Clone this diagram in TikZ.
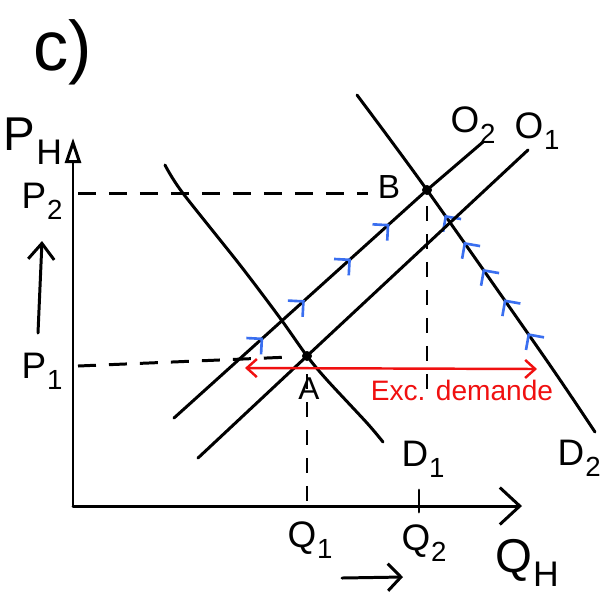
\documentclass[tikz,border=0pt]{standalone}
\usepackage{fontspec}
\setmainfont{Liberation Sans}
\usepackage{graphicx}
\usetikzlibrary{arrows.meta,decorations.markings}
\definecolor{penBlue}{HTML}{3A6FF0}
\definecolor{penRed}{HTML}{F01010}
\newcommand{\lo}[1]{\kern0.5pt\raisebox{-0.55ex}{\scalebox{0.75}{#1}}}

\tikzset{
  curve/.style={line width=1.7pt, line cap=round},
  guide/.style={line width=1.7pt, dash pattern=on 0.36cm off 0.26cm},
  vguide/.style={line width=1.7pt, dash pattern=on 0.3cm off 0.26cm},
  lbl/.style={font=\fontsize{21}{25}\selectfont, inner sep=0pt},
  pen up/.style={postaction={decorate, decoration={markings,
      mark=at position #1 with {\arrow{Straight Barb[color=penBlue, line width=1.5pt, length=2.2mm, width=4.4mm]}}}}},
  pen back/.style={postaction={decorate, decoration={markings,
      mark=at position #1 with {\arrowreversed{Straight Barb[color=penBlue, line width=1.5pt, length=2.2mm, width=4.4mm]}}}}},
}

\begin{document}
\begin{tikzpicture}[x=0.02cm, y=-0.02cm]
    \useasboundingbox (0,0) rectangle (605,593);

    \coordinate (O) at (73,506);
    \coordinate (A) at (307,356);
    \coordinate (B) at (427,190);

    % axes
    \draw[curve, -{Triangle[open, length=0.5cm, width=0.32cm]}] (O) -- (73,138);
    \draw[curve, -{Straight Barb[length=0.4cm, width=0.74cm]}] (O) -- (522,506);
    \draw[curve] (419,490) -- (419,512);

    % guides
    \draw[guide] (78,193) -- (368,193);
    \draw[guide] (78,366) -- (290,357);
    \draw[vguide] (307,374) -- (O -| A);
    \draw[vguide] (427,206) -- (427,400);

    % demand and supply
    \draw[curve] plot[smooth, tension=0.5] coordinates
        {(165,165) (182,192) (240,265) (280,318) (A) (327,380) (367,423) (383,442)};
    \draw[curve, pen back=0.36, pen back=0.44, pen back=0.52, pen back=0.61, pen back=0.71]
        plot[smooth, tension=0.5] coordinates {(357,95) (B) (545,358) (595,432)};
    \draw[curve] (198,458) -- (A) -- (528,150);
    \draw[curve, pen up=0.29, pen up=0.425, pen up=0.575, pen up=0.70]
        (174,418) -- (B) -- (483,142);

    \fill (A) circle (5);
    \fill (B) circle (5);

    % excess demand
    \draw[penRed, line width=1.4pt, {Straight Barb[length=2mm, width=3.6mm]}-{Straight Barb[length=2mm, width=3.6mm]}]
        (245,368) -- (537,369);
    \node[lbl, penRed, font=\fontsize{16}{19}\selectfont] (exc) at (462,390) {Exc. demande};

    % small arrows
    \draw[curve, -{Straight Barb[length=0.32cm, width=0.52cm]}] (38,333) -- (42,241);
    \draw[curve, -{Straight Barb[length=0.26cm, width=0.54cm]}] (342,578) -- (403,577);

    % labels
    \node[lbl, font=\fontsize{40}{44}\selectfont] (cLbl) at (63,52) {c)};
    \node[lbl, font=\fontsize{27}{31}\selectfont] (PH) at (33,141) {P\lo{H}};
    \node[lbl] (P2) at (42,201) {P\lo{2}};
    \node[lbl] (P1) at (42,371) {P\lo{1}};
    \node[lbl] (Q1) at (310,540) {Q\lo{1}};
    \node[lbl] (Q2) at (424,543) {Q\lo{2}};
    \node[lbl, font=\fontsize{27}{31}\selectfont] (QH) at (527,563) {Q\lo{H}};
    \node[lbl] (D1) at (423,459) {D\lo{1}};
    \node[lbl, anchor=east] (D2) at (601,458) {D\lo{2}};
    \node[lbl] (O2) at (473,125) {O\lo{2}};
    \node[lbl] (O1) at (537,131) {O\lo{1}};
    \node[lbl, font=\fontsize{19}{23}\selectfont] (Bl) at (389,187) {B};
    \node[lbl, font=\fontsize{18}{22}\selectfont] (Al) at (309,389) {A};
\end{tikzpicture}
\end{document}
